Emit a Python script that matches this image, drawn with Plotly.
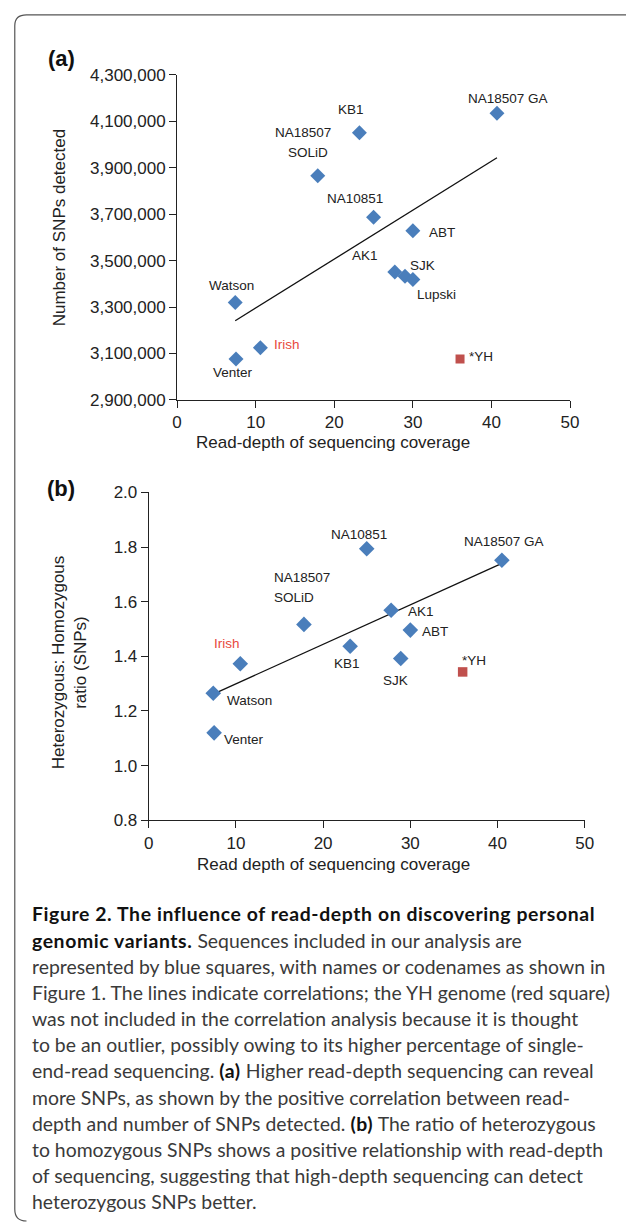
import plotly.graph_objects as go

# ---------------- data ----------------
a_names = ["Watson", "Venter", "Irish", "NA18507 SOLiD", "KB1", "NA10851",
           "AK1", "SJK", "Lupski", "ABT", "NA18507 GA"]
a_depth = [7.4, 7.5, 10.6, 17.9, 23.2, 25.0, 27.7, 29.0, 30.0, 30.0, 40.7]
a_snps = [3320000, 3076000, 3125000, 3866000, 4051000, 3687000,
          3451000, 3433000, 3419000, 3629000, 4135000]
a_yh_depth = [36.0]
a_yh_snps = [3076000]
trend_a_x = [7.4, 40.7]
trend_a_y = [3241000, 3943000]

b_names = ["Watson", "Venter", "Irish", "NA18507 SOLiD", "KB1", "NA10851",
           "AK1", "SJK", "ABT", "NA18507 GA"]
b_depth = [7.4, 7.5, 10.5, 17.8, 23.1, 25.0, 27.8, 28.9, 30.0, 40.5]
b_ratio = [1.265, 1.120, 1.373, 1.517, 1.437, 1.794, 1.569, 1.392, 1.496, 1.752]
b_yh_depth = [36.0]
b_yh_ratio = [1.343]
trend_b_x = [7.4, 40.5]
trend_b_y = [1.262, 1.740]

a_yticks = [2900000, 3100000, 3300000, 3500000, 3700000, 3900000, 4100000, 4300000]
b_yticks = [0.8, 1.0, 1.2, 1.4, 1.6, 1.8, 2.0]
x_ticks = [0, 10, 20, 30, 40, 50]

B0 = "<span style='letter-spacing:0.6px;color:#111'><b>"
B1 = "</b></span>"
caption_lines = [
    B0 + "Figure 2. The influence of read-depth on discovering personal" + B1,
    B0 + "genomic variants." + B1 + " Sequences included in our analysis are",
    "represented by blue squares, with names or codenames as shown in",
    "Figure 1. The lines indicate correlations; the YH genome (red square)",
    "was not included in the correlation analysis because it is thought",
    "to be an outlier, possibly owing to its higher percentage of single-",
    "end-read sequencing. " + B0 + "(a)" + B1 + " Higher read-depth sequencing can reveal",
    "more SNPs, as shown by the positive correlation between read-",
    "depth and number of SNPs detected. " + B0 + "(b)" + B1 + " The ratio of heterozygous",
    "to homozygous SNPs shows a positive relationship with read-depth",
    "of sequencing, suggesting that high-depth sequencing can detect",
    "heterozygous SNPs better.",
]

# ---------------- styling / label offsets (pixels: dx right, dy down) ----------------
W, H = 626, 1231
BLUE = "#4a7ebb"
DARKRED = "#c0504d"
IRISH_RED = "#e8483c"
TXT = "#222222"
FONT = "Liberation Sans, Arial, sans-serif"

a_offsets = {
    "Watson": [("Watson", -4, -17)],
    "Venter": [("Venter", -3, 13)],
    "Irish": [("Irish", 27, -3)],
    "NA18507 SOLiD": [("NA18507", -15, -43), ("SOLiD", -10, -23)],
    "KB1": [("KB1", -8, -23)],
    "NA10851": [("NA10851", -19, -19)],
    "AK1": [("AK1", -30, -16)],
    "SJK": [("SJK", 17, -11)],
    "Lupski": [("Lupski", 24, 15)],
    "ABT": [("ABT", 29, 2)],
    "NA18507 GA": [("NA18507 GA", 11, -15)],
}
b_offsets = {
    "Watson": [("Watson", 36, 7)],
    "Venter": [("Venter", 30, 7)],
    "Irish": [("Irish", -13, -20)],
    "NA18507 SOLiD": [("NA18507", -2, -47), ("SOLiD", -10, -27)],
    "KB1": [("KB1", -3, 17)],
    "NA10851": [("NA10851", -8, -14)],
    "AK1": [("AK1", 30, 1)],
    "SJK": [("SJK", -5, 22)],
    "ABT": [("ABT", 25, 1)],
    "NA18507 GA": [("NA18507 GA", 2, -19)],
}


def px(x):
    return x / W


def py(y):
    return 1 - y / H


fig = go.Figure()

# panel (a)
fig.add_trace(go.Scatter(x=trend_a_x, y=trend_a_y, mode="lines",
                         line=dict(color="#111", width=1.3), xaxis="x", yaxis="y",
                         showlegend=False, hoverinfo="skip"))
fig.add_trace(go.Scatter(x=a_depth, y=a_snps, mode="markers", text=a_names,
                         marker=dict(symbol="diamond", size=11.5, color=BLUE),
                         xaxis="x", yaxis="y", showlegend=False))
fig.add_trace(go.Scatter(x=a_yh_depth, y=a_yh_snps, mode="markers", text=["*YH"],
                         marker=dict(symbol="square", size=9, color=DARKRED),
                         xaxis="x", yaxis="y", showlegend=False))

# panel (b)
fig.add_trace(go.Scatter(x=trend_b_x, y=trend_b_y, mode="lines",
                         line=dict(color="#111", width=1.3), xaxis="x2", yaxis="y2",
                         showlegend=False, hoverinfo="skip"))
fig.add_trace(go.Scatter(x=b_depth, y=b_ratio, mode="markers", text=b_names,
                         marker=dict(symbol="diamond", size=12, color=BLUE),
                         xaxis="x2", yaxis="y2", showlegend=False))
fig.add_trace(go.Scatter(x=b_yh_depth, y=b_yh_ratio, mode="markers", text=["*YH"],
                         marker=dict(symbol="square", size=9.5, color=DARKRED),
                         xaxis="x2", yaxis="y2", showlegend=False))

annotations = []


def add_labels(names, xs, ys, offsets, xref, yref):
    for n, xv, yv in zip(names, xs, ys):
        for text, dx, dy in offsets[n]:
            annotations.append(dict(
                x=xv, y=yv, xref=xref, yref=yref, text=text, showarrow=False,
                xanchor="center", yanchor="middle", xshift=dx, yshift=-dy,
                font=dict(family=FONT, size=13.5,
                          color=IRISH_RED if n == "Irish" else TXT)))


add_labels(a_names, a_depth, a_snps, a_offsets, "x", "y")
add_labels(b_names, b_depth, b_ratio, b_offsets, "x2", "y2")
annotations.append(dict(x=a_yh_depth[0], y=a_yh_snps[0], xref="x", yref="y", text="*YH",
                        showarrow=False, xanchor="center", yanchor="middle",
                        xshift=21, yshift=3, font=dict(family=FONT, size=13.5, color=TXT)))
annotations.append(dict(x=b_yh_depth[0], y=b_yh_ratio[0], xref="x2", yref="y2", text="*YH",
                        showarrow=False, xanchor="center", yanchor="middle",
                        xshift=11, yshift=11, font=dict(family=FONT, size=13.5, color=TXT)))


def paper_text(text, x, y, size, angle=0, bold=False, color=TXT, family=FONT, xanchor="center"):
    annotations.append(dict(
        x=px(x), y=py(y), xref="paper", yref="paper",
        text=("<b>%s</b>" % text) if bold else text, showarrow=False,
        xanchor=xanchor, yanchor="middle", textangle=angle,
        font=dict(family=family, size=size, color=color)))


paper_text("(a)", 57.5, 50, 22, bold=True, color="#111")
paper_text("(b)", 57.5, 487, 22, bold=True, color="#111")
paper_text("Read-depth of sequencing coverage", 336, 440, 17)
paper_text("Number of SNPs detected", 56, 222, 17, angle=-90)
paper_text("Read depth of sequencing coverage", 336, 869, 17)
paper_text("Heterozygous: Homozygous<br>ratio (SNPs)", 66, 664, 17, angle=-90)

# caption
for i, line in enumerate(caption_lines):
    paper_text(line, 26, 919 + 26.6 * i, 19.4, color="#3a3a3a",
               family="Lato, Open Sans, sans-serif", xanchor="left")

axis_common = dict(showgrid=False, zeroline=False, showline=True, linecolor="#222",
                   linewidth=1, ticks="outside", ticklen=7, tickcolor="#222", tickwidth=1,
                   tickfont=dict(family=FONT, size=17, color=TXT))

fig.update_layout(
    width=W, height=H,
    margin=dict(l=0, r=0, t=0, b=0),
    paper_bgcolor="white", plot_bgcolor="white",
    xaxis=dict(domain=[px(176), px(578)], range=[0, 50], tickvals=x_ticks,
               anchor="y", **axis_common),
    yaxis=dict(domain=[py(397), py(67)], range=[2900000, 4300000], tickvals=a_yticks,
               tickformat=",d", anchor="x", **axis_common),
    xaxis2=dict(domain=[px(147), px(593)], range=[0, 50], tickvals=x_ticks,
                anchor="y2", **axis_common),
    yaxis2=dict(domain=[py(824), py(491)], range=[0.8, 2.0], tickvals=b_yticks,
                tickformat=".1f", anchor="x2", **axis_common),
    annotations=annotations,
    shapes=[dict(
        type="path", xref="paper", yref="paper",
        path="M %f,%f Q %f,%f %f,%f L %f,%f Q %f,%f %f,%f L %f,%f" % (
            px(22), py(1231), px(10), py(1231), px(10), py(1219),
            px(10), py(17), px(10), py(6), px(22), py(6),
            px(640), py(6)),
        line=dict(color="#555", width=1.2))],
)

fig.write_html("out.html", config={"displayModeBar": False},
               post_script="document.body.style.margin='0';document.body.style.overflow='hidden';")
